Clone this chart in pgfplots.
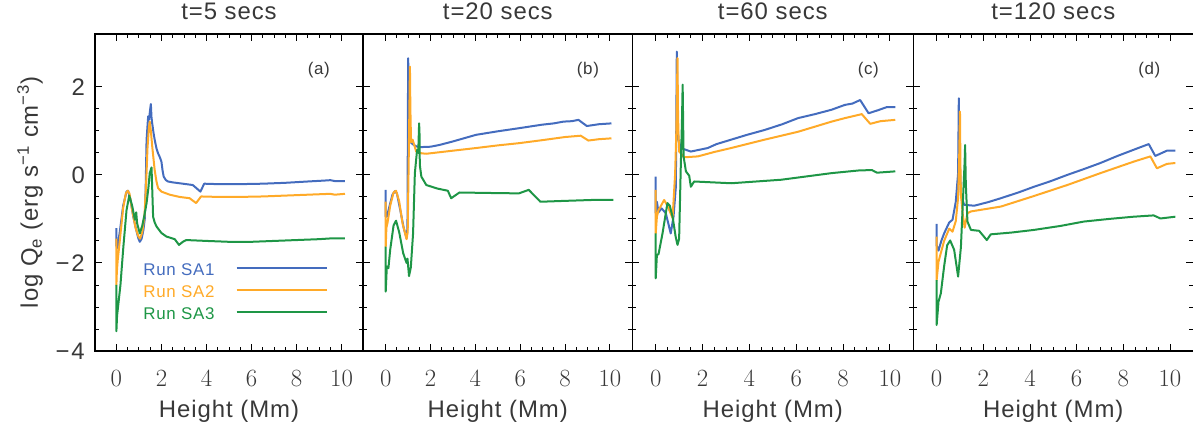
\documentclass[border=0pt]{standalone}
\usepackage{fontspec}
\setmainfont{Liberation Sans}[LetterSpace=4]
\usepackage{pgfplots}
\pgfplotsset{compat=1.18}
\definecolor{cA}{RGB}{68,108,190}
\definecolor{cB}{RGB}{255,170,40}
\definecolor{cC}{RGB}{30,150,70}
\newcommand{\bigf}{\fontsize{24}{24}\selectfont}
\newcommand{\smlf}{\fontsize{17}{17}\selectfont}
\pgfplotsset{panel/.style={
  scale only axis, height=317bp,
  ymin=-4, ymax=3.2,
  ytick={-4,-2,0,2}, minor y tick num=3,
  xtick={0,2,4,6,8,10}, minor x tick num=3,
  tick pos=both, tick align=inside,
  major tick length=7bp, minor tick length=4bp,
  axis line style={line width=1.1bp, black},
  every tick/.style={black, line width=0.9bp},
  tick label style={font=\bigf, text=black!78},
  xticklabel style={anchor=base, inner sep=0pt, yshift=-36bp},
  yticklabel style={anchor=east, inner sep=0pt, xshift=-10bp},
  label style={font=\bigf, text=black!78},
  title style={font=\bigf, text=black!78, at={(0.5,1)}, anchor=base, yshift=9bp},
  xlabel={Height (Mm)},
  xlabel style={at={(axis description cs:0.5,0)}, anchor=base, yshift=-66bp},
  every axis plot/.append style={line width=2bp, line join=round},
}}
\begin{document}
\begin{tikzpicture}
\path[use as bounding box] (0,0) rectangle (1193bp,426bp);

% ---------------- (a)
\begin{axis}[panel, at={(95bp,75bp)}, anchor=south west, width=268bp,
  xmin=-0.95, xmax=10.95, title={t=5 secs},
  yticklabels={−\kern2bp 4,−\kern2bp 2,0,2},
  ylabel={log Q\textsubscript{e} (erg s\textsuperscript{−1} cm\textsuperscript{−3})},
  ylabel style={at={(axis description cs:-0.2425,0.5)}, anchor=center},
  legend plot pos=right,
  legend image code/.code={\draw[#1, line width=2bp] (0bp,1bp) -- (90bp,1bp);},
  legend style={at={(rel axis cs:0.18,0.2776)}, anchor=north west, draw=none, fill=none,
    font=\smlf, row sep=10bp, column sep=21bp, inner sep=0pt,
    nodes={inner sep=0pt, text height=12bp, text depth=0bp}},
]
\addplot[cA] coordinates {(0,-1.21) (0,-1.6) (0.04,-1.67) (0.15,-1.3) (0.3,-0.7) (0.45,-0.38) (0.52,-0.36) (0.62,-0.55) (0.75,-0.95) (0.88,-1.25) (0.98,-1.45) (1.04,-1.52) (1.12,-1.45) (1.2,-1.25) (1.26,-1.0) (1.3,-0.3) (1.34,0.8) (1.41,1.33) (1.45,1.25) (1.49,1.45) (1.53,1.61) (1.56,1.3) (1.59,1.17) (1.65,0.95) (1.7,0.8) (1.78,0.6) (1.85,0.49) (1.93,0.4) (2.0,0.30) (2.05,0.1) (2.1,-0.04) (2.2,-0.12) (2.29,-0.15) (2.5,-0.17) (2.8,-0.19) (3.1,-0.21) (3.39,-0.23) (3.55,-0.3) (3.73,-0.38) (3.9,-0.2) (4.5,-0.21) (5.5,-0.21) (6.5,-0.2) (7.5,-0.18) (8.5,-0.15) (9.2,-0.13) (9.5,-0.12) (9.7,-0.14) (10.15,-0.14)};
\addlegendentry{\textcolor{cA}{Run SA1}}
\addplot[cB] coordinates {(0,-1.45) (0,-2.5) (0.02,-2.2) (0.06,-1.93) (0.15,-1.5) (0.3,-0.75) (0.42,-0.42) (0.5,-0.36) (0.58,-0.42) (0.7,-0.8) (0.85,-1.2) (0.98,-1.4) (1.05,-1.45) (1.15,-1.3) (1.25,-0.9) (1.32,-0.2) (1.38,0.6) (1.44,1.05) (1.48,1.21) (1.53,1.0) (1.6,0.6) (1.7,0.11) (1.78,-0.15) (1.85,-0.3) (2.0,-0.38) (2.37,-0.45) (2.8,-0.5) (3.25,-0.53) (3.54,-0.64) (3.76,-0.49) (4.5,-0.5) (5.5,-0.5) (6.5,-0.49) (7.5,-0.47) (8.5,-0.45) (9.5,-0.43) (9.7,-0.45) (10.15,-0.43)};
\addlegendentry{\textcolor{cB}{Run SA2}}
\addplot[cC] coordinates {(0,-2.5) (0,-3.55) (0.03,-3.2) (0.09,-2.92) (0.18,-2.5) (0.31,-1.63) (0.45,-0.8) (0.57,-0.47) (0.7,-0.7) (0.82,-1.02) (0.88,-0.85) (0.92,-1.1) (1.04,-1.33) (1.15,-1.15) (1.25,-0.9) (1.34,-0.64) (1.42,-0.3) (1.48,0.04) (1.53,0.12) (1.56,0.17) (1.59,-0.3) (1.63,-0.95) (1.7,-1.08) (1.78,-1.17) (2.0,-1.32) (2.22,-1.40) (2.59,-1.46) (2.78,-1.59) (2.95,-1.52) (3.1,-1.48) (4,-1.5) (5,-1.52) (6,-1.52) (7,-1.5) (8,-1.48) (9,-1.46) (9.6,-1.44) (10.15,-1.44)};
\addlegendentry{\textcolor{cC}{Run SA3}}
\node[font=\smlf, text=black!78] at (rel axis cs:0.835,0.886) {(a)};
\end{axis}

% ---------------- (b)
\begin{axis}[panel, at={(363.3bp,75bp)}, anchor=south west, width=269bp,
  xmin=-1, xmax=11, title={t=20 secs}, yticklabels={,,,}]
\addplot[cA] coordinates {(0,-0.34) (0,-0.95) (0.05,-0.95) (0.15,-0.75) (0.3,-0.45) (0.41,-0.37) (0.5,-0.42) (0.65,-0.8) (0.8,-1.2) (0.93,-1.44) (0.97,-1.2) (1.0,2.65) (1.03,2.0) (1.07,0.76) (1.2,0.7) (1.35,0.65) (1.52,0.63) (2.0,0.64) (2.4,0.68) (3.0,0.76) (4.03,0.91) (5.0,0.99) (5.94,1.06) (6.97,1.14) (7.5,1.17) (7.93,1.21) (8.3,1.22) (8.6,1.25) (8.97,1.11) (9.5,1.15) (10.07,1.17)};
\addplot[cB] coordinates {(0,-0.61) (0,-1.63) (0.03,-1.2) (0.08,-1.09) (0.2,-0.7) (0.35,-0.4) (0.46,-0.36) (0.6,-0.6) (0.75,-1.1) (0.93,-1.46) (0.98,-1.3) (1.03,0.5) (1.08,2.46) (1.1,1.5) (1.13,0.74) (1.2,0.8) (1.36,0.53) (1.6,0.49) (1.81,0.48) (3.0,0.55) (4.03,0.61) (5.0,0.67) (5.94,0.72) (7.0,0.79) (8.0,0.86) (8.7,0.89) (9.04,0.78) (9.5,0.81) (10.07,0.83)};
\addplot[cC] coordinates {(0,-1.63) (0,-2.65) (0.05,-2.08) (0.12,-2.12) (0.2,-1.7) (0.35,-1.15) (0.46,-1.04) (0.6,-1.3) (0.78,-1.78) (0.93,-2.0) (0.97,-1.9) (1.04,-2.3) (1.12,-2.1) (1.22,-1.33) (1.3,0.04) (1.4,0.57) (1.45,0.5) (1.49,1.17) (1.51,0.9) (1.52,0.23) (1.59,-0.04) (1.81,-0.23) (2.3,-0.31) (2.77,-0.36) (2.92,-0.53) (3.29,-0.4) (4.5,-0.41) (5.94,-0.42) (6.38,-0.34) (6.9,-0.61) (8,-0.59) (9.19,-0.57) (10.15,-0.57)};
\node[font=\smlf, text=black!78] at (rel axis cs:0.835,0.886) {(b)};
\end{axis}

% ---------------- (c)
\begin{axis}[panel, at={(632.3bp,75bp)}, anchor=south west, width=281bp,
  xmin=-1, xmax=11, title={t=60 secs}, yticklabels={,,,}]
\addplot[cA] coordinates {(0,-0.04) (0,-0.87) (0.05,-0.61) (0.12,-0.85) (0.25,-0.76) (0.43,-0.87) (0.64,-1.33) (0.76,-0.95) (0.86,-0.27) (0.90,2.8) (0.93,1.2) (0.97,0.8) (1.07,0.61) (1.5,0.53) (2.22,0.61) (2.6,0.7) (3.22,0.8) (3.9,0.91) (4.65,1.02) (5.4,1.15) (6.08,1.29) (6.8,1.38) (7.51,1.48) (8.08,1.59) (8.4,1.62) (8.73,1.70) (9.09,1.40) (9.5,1.47) (9.87,1.54) (10.23,1.54)};
\addplot[cB] coordinates {(0,-0.34) (0,-1.33) (0.05,-0.95) (0.12,-0.8) (0.36,-0.57) (0.5,-0.7) (0.72,-0.98) (0.83,0.04) (0.88,1.0) (0.93,2.65) (0.95,1.5) (0.97,0.95) (1.0,0.53) (1.22,0.40) (1.8,0.42) (2.5,0.52) (3.22,0.61) (4.65,0.8) (6.08,0.98) (7.51,1.21) (8.08,1.29) (8.8,1.38) (9.16,1.16) (9.6,1.22) (10.23,1.25)};
\addplot[cC] coordinates {(0,-1.33) (0,-2.35) (0.05,-1.82) (0.12,-1.8) (0.29,-1.33) (0.5,-0.64) (0.6,-0.7) (0.72,-0.95) (0.85,-1.4) (0.93,-1.59) (1.0,-1.45) (1.07,0.19) (1.12,1.2) (1.15,2.05) (1.19,0.42) (1.29,0.08) (1.43,-0.02) (1.50,-0.27) (1.64,-0.15) (3.22,-0.19) (5.36,-0.11) (7.51,0.04) (8.66,0.10) (9.23,0.11) (9.45,0.05) (10.23,0.08)};
\node[font=\smlf, text=black!78] at (rel axis cs:0.84,0.886) {(c)};
\end{axis}

% ---------------- (d)
\begin{axis}[panel, at={(913.3bp,75bp)}, anchor=south west, width=280bp,
  xmin=-1, xmax=11, title={t=120 secs}, yticklabels={,,,}]
\addplot[cA] coordinates {(0,-1.11) (0,-1.6) (0.08,-1.72) (0.2,-1.5) (0.32,-1.33) (0.54,-1.08) (0.68,-1.02) (0.82,-0.61) (0.92,0.04) (0.95,1.74) (0.98,0.5) (1.04,-0.45) (1.18,-0.68) (1.61,-0.70) (2.2,-0.62) (2.75,-0.53) (3.5,-0.4) (4.17,-0.27) (4.9,-0.14) (5.6,0.0) (6.3,0.13) (7.02,0.27) (7.7,0.42) (8.44,0.57) (9.09,0.70) (9.37,0.43) (9.87,0.55) (10.23,0.55)};
\addplot[cB] coordinates {(0,-1.40) (0,-2.39) (0.08,-1.97) (0.32,-1.5) (0.54,-1.22) (0.68,-1.29) (0.82,-1.05) (0.92,-0.52) (0.97,0.5) (1.0,1.44) (1.02,0.2) (1.04,-0.45) (1.12,-0.9) (1.2,-1.2) (1.32,-0.87) (1.47,-0.83) (2.75,-0.72) (4.17,-0.48) (5.6,-0.23) (7.02,0.04) (8.44,0.30) (9.16,0.42) (9.44,0.15) (9.87,0.25) (10.23,0.27)};
\addplot[cC] coordinates {(0,-2.39) (0,-3.41) (0.08,-2.88) (0.18,-2.69) (0.32,-2.08) (0.45,-1.6) (0.58,-1.49) (0.75,-1.7) (0.92,-2.31) (1.04,-1.64) (1.14,-0.42) (1.2,0.3) (1.22,0.68) (1.25,-0.2) (1.32,-1.06) (1.47,-1.25) (1.82,-1.27) (2.15,-1.48) (2.32,-1.35) (3.2,-1.31) (4.17,-1.25) (5.3,-1.16) (6.31,-1.06) (7.4,-1.0) (8.44,-0.95) (9.3,-0.92) (9.59,-0.99) (10.23,-0.95)};
\node[font=\smlf, text=black!78] at (rel axis cs:0.843,0.886) {(d)};
\end{axis}
\end{tikzpicture}
\end{document}
